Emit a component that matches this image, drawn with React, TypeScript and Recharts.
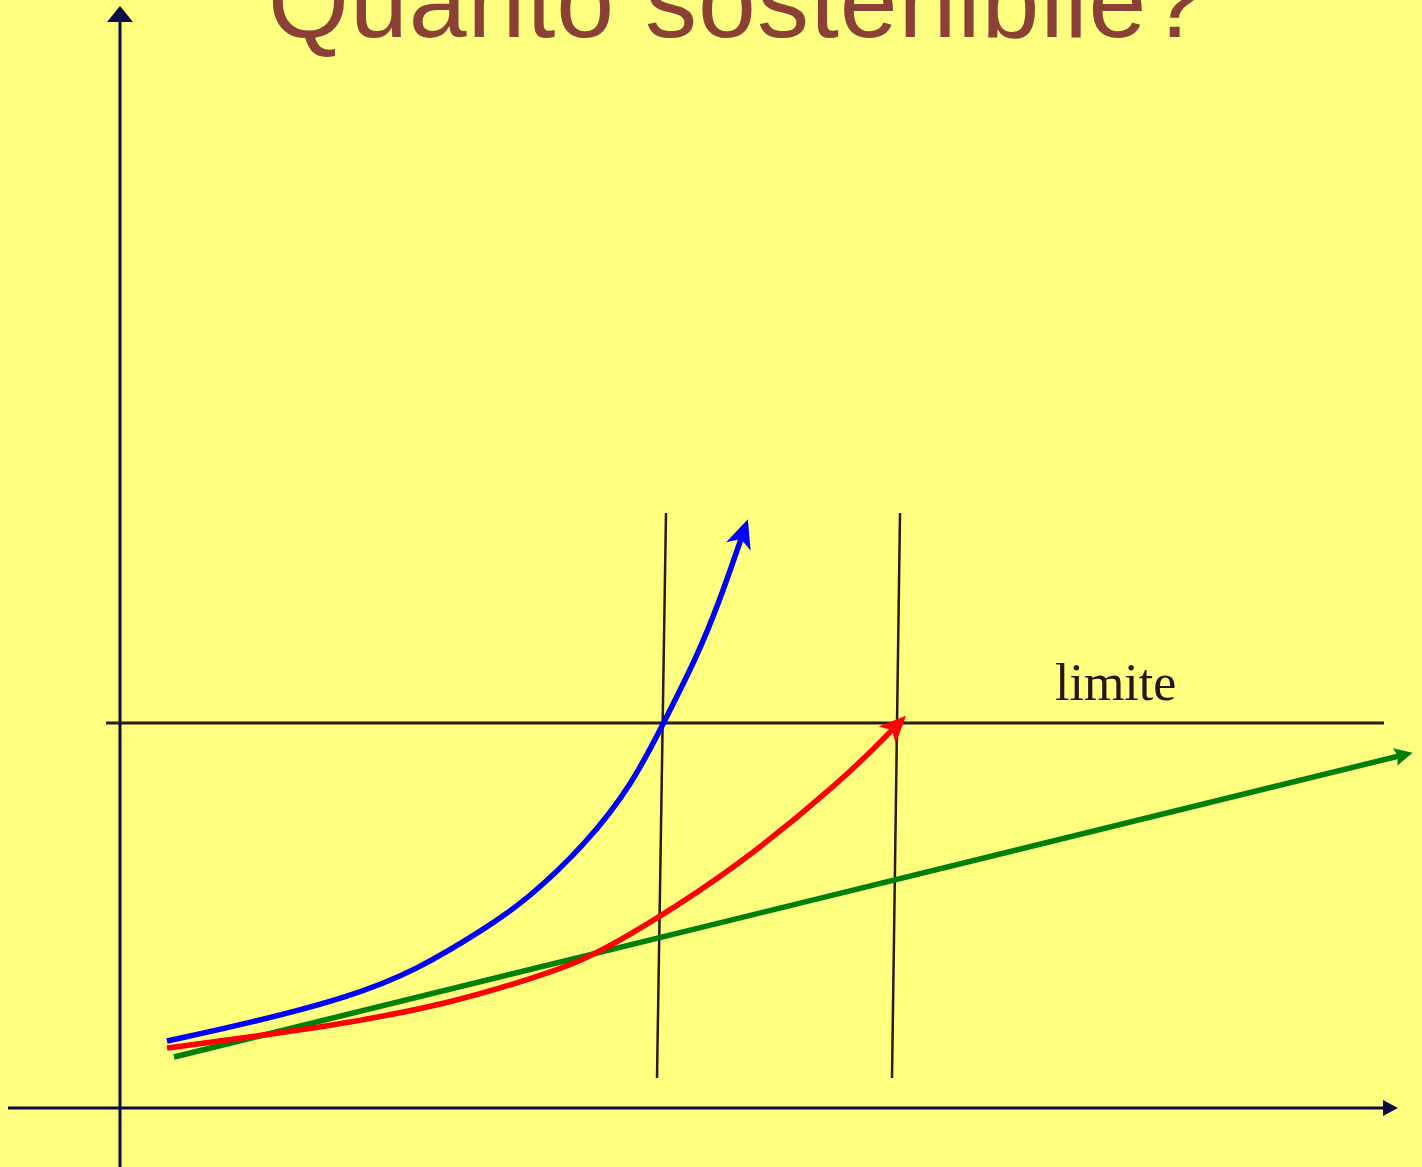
import { LineChart, Line, XAxis, YAxis } from 'recharts'

// coordinate space: origin where the two axes cross, 1 unit = 10px
const titleText = 'Quanto sostenibile?'
const limitLabel = 'limite'

const blueCurve = [
  { x: 4.7, y: 6.7 },
  { x: 13.0, y: 8.5 },
  { x: 23.0, y: 11.1 },
  { x: 29.7, y: 13.8 },
  { x: 36.3, y: 17.8 },
  { x: 40.7, y: 20.8 },
  { x: 46.7, y: 26.5 },
  { x: 51.3, y: 32.5 },
  { x: 54.3, y: 38.4 },
  { x: 57.7, y: 45.1 },
  { x: 60.0, y: 50.8 },
  { x: 62.1, y: 56.9 },
]

const redCurve = [
  { x: 4.7, y: 6.0 },
  { x: 13.0, y: 7.1 },
  { x: 23.0, y: 8.5 },
  { x: 33.0, y: 10.5 },
  { x: 39.7, y: 12.5 },
  { x: 46.3, y: 14.6 },
  { x: 53.0, y: 18.5 },
  { x: 61.3, y: 23.8 },
  { x: 72.3, y: 32.8 },
  { x: 77.2, y: 37.8 },
]

const greenLine = [
  { x: 5.4, y: 5.1 },
  { x: 127.9, y: 35.2 },
]

const limitLine = [
  { x: -1.4, y: 38.5 },
  { x: 126.4, y: 38.5 },
]

const firstThreshold = [
  { x: 54.6, y: 59.5 },
  { x: 53.7, y: 3.0 },
]

const secondThreshold = [
  { x: 78.0, y: 59.5 },
  { x: 77.2, y: 3.0 },
]

const xAxisLine = [
  { x: -11.2, y: 0 },
  { x: 126.3, y: 0 },
]

const yAxisLine = [
  { x: 0, y: -5.9 },
  { x: 0, y: 108.6 },
]

const W = 1422
const H = 1167
const axisColor = '#0d0d45'
const inkColor = '#2b1a12'

export default function App() {
  return (
    <div style={{ position: 'absolute', left: 0, top: 0, width: W, height: H, background: '#ffff80', overflow: 'hidden' }}>
      <LineChart width={W} height={H} margin={{ top: 0, right: 0, bottom: 0, left: 0 }}>
        <defs>
          <marker id="arrowBlue" markerUnits="userSpaceOnUse" orient="auto" refX={0} refY={0} markerWidth={1} markerHeight={1} overflow="visible">
            <path d="M21,0 L-8,-13 L0,0 L-8,13 Z" fill="#0000ff" />
          </marker>
          <marker id="arrowRed" markerUnits="userSpaceOnUse" orient="auto" refX={0} refY={0} markerWidth={1} markerHeight={1} overflow="visible">
            <path d="M20,0 L-7,-12 L0,0 L-7,12 Z" fill="#ff0000" />
          </marker>
          <marker id="arrowGreen" markerUnits="userSpaceOnUse" orient="auto" refX={0} refY={0} markerWidth={1} markerHeight={1} overflow="visible">
            <path d="M14,0 L-4,-9 L-1,0 L-4,9 Z" fill="#008000" />
          </marker>
          <marker id="arrowAxis" markerUnits="userSpaceOnUse" orient="auto" refX={0} refY={0} markerWidth={1} markerHeight={1} overflow="visible">
            <path d="M15,0 L0,-8 L0,8 Z" fill={axisColor} />
          </marker>
          <marker id="arrowAxisY" markerUnits="userSpaceOnUse" orient="auto" refX={0} refY={0} markerWidth={1} markerHeight={1} overflow="visible">
            <path d="M16,0 L0,-13 L0,13 Z" fill={axisColor} />
          </marker>
        </defs>
        <XAxis type="number" dataKey="x" domain={[-12, 130.2]} allowDataOverflow hide />
        <YAxis type="number" dataKey="y" domain={[-5.9, 110.8]} allowDataOverflow hide />

        <Line data={xAxisLine} dataKey="y" type="linear" stroke={axisColor} strokeWidth={3} dot={false} activeDot={false} markerEnd="url(#arrowAxis)" isAnimationActive={false} />
        <Line data={yAxisLine} dataKey="y" type="linear" stroke={axisColor} strokeWidth={3} dot={false} activeDot={false} markerEnd="url(#arrowAxisY)" isAnimationActive={false} />
        <Line data={limitLine} dataKey="y" type="linear" stroke={inkColor} strokeWidth={3} dot={false} activeDot={false} isAnimationActive={false} />
        <Line data={firstThreshold} dataKey="y" type="linear" stroke={inkColor} strokeWidth={2.5} dot={false} activeDot={false} isAnimationActive={false} />
        <Line data={secondThreshold} dataKey="y" type="linear" stroke={inkColor} strokeWidth={2.5} dot={false} activeDot={false} isAnimationActive={false} />

        <Line data={greenLine} dataKey="y" type="linear" stroke="#008000" strokeWidth={5.5} dot={false} activeDot={false} markerEnd="url(#arrowGreen)" isAnimationActive={false} />
        <Line data={redCurve} dataKey="y" type="basis" stroke="#ff0000" strokeWidth={5.5} dot={false} activeDot={false} markerEnd="url(#arrowRed)" isAnimationActive={false} />
        <Line data={blueCurve} dataKey="y" type="basis" stroke="#0000ff" strokeWidth={5.5} dot={false} activeDot={false} markerEnd="url(#arrowBlue)" isAnimationActive={false} />

        <text x={268} y={37} fontFamily="'Liberation Sans', Arial, sans-serif" fontSize={104} letterSpacing={1} fill="#8a4036">
          {titleText}
        </text>
        <text x={1055} y={700} fontFamily="'Liberation Serif', 'Times New Roman', serif" fontSize={52} fill="#2a1410">
          {limitLabel}
        </text>
      </LineChart>
    </div>
  )
}
